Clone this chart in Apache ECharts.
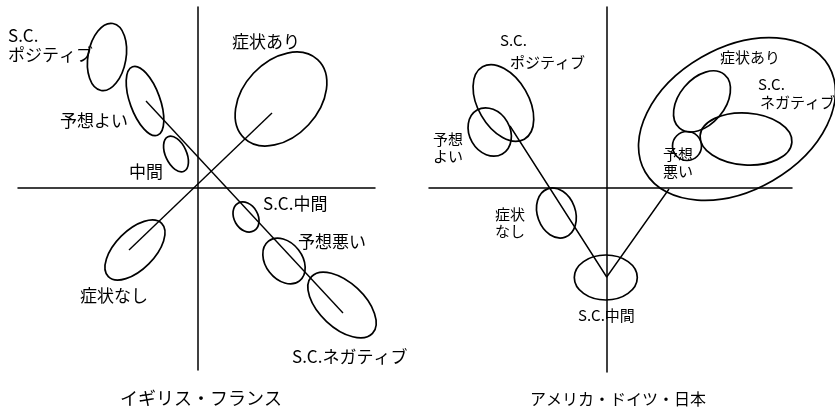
<!DOCTYPE html>
<html>
<head>
<meta charset="utf-8">
<script src="https://cdn.jsdelivr.net/npm/echarts@6/dist/echarts.min.js"></script>
<style>
  html, body { margin: 0; padding: 0; background: #fff; }
  #main { width: 835px; height: 414px; }
</style>
</head>
<body>
<div id="main"></div>
<script>
// 各パネルの楕円: [中心x, 中心y, 長半径, 短半径, 傾き(度)]
var ukEllipses = [
  [-91, 131, 34, 19, 80],    // S.C.ポジティブ
  [-53, 87, 36.5, 15, -70],  // 予想よい
  [-22, 34, 19, 10.5, -65],  // 中間
  [83, 89, 53.7, 37.7, 47],  // 症状あり
  [-63, -62, 37.7, 19.5, 45], // 症状なし
  [48, -29, 15.9, 11.9, -60], // S.C.中間
  [86, -73, 25.2, 18.3, -52], // 予想悪い
  [144, -117, 41.7, 22.6, -43] // S.C.ネガティブ
];
var usEllipses = [
  [-103.6, 85, 41.8, 25.4, -60], // S.C.ポジティブ
  [-117.3, 56, 25.3, 20.3, -60], // 予想よい
  [-50.6, -25, 25.7, 19, -70],   // 症状なし
  [-1.2, -89.5, 31.5, 22.5, 0],  // S.C.中間
  [130, 69, 106, 71.2, 30],      // 外側の大きな楕円
  [95, 86.6, 35, 22.8, 50],      // 症状あり
  [139, 49, 46, 26, -4],         // S.C.ネガティブ
  [80, 42, 14.5, 14.5, 0]        // 予想悪い
];

// 線
var ukLineA = [[-52, 87], [145, -125]];
var ukLineB = [[-69, -62], [74, 75]];
var usLine = [[-97, 62], [-0.3, -89], [62, -1]];

// ラベル: [左上x, 左上y, 文字]
var ukLabels = [
  [-190, 162, 'S.C.\nポジティブ'],
  [34, 156, '症状あり'],
  [-138, 77, '予想よい'],
  [-69, 26, '中間'],
  [65, -6, 'S.C.中間'],
  [100, -44, '予想悪い'],
  [-118, -98, '症状なし'],
  [94, -159, 'S.C.ネガティブ']
];
var usLabels = [
  [-107, 156, 'S.C.'],
  [-97, 134, 'ポジティブ'],
  [-174, 57, '予想\nよい'],
  [-112, -18, '症状\nなし'],
  [-29, -119, 'S.C.中間'],
  [113, 139, '症状あり'],
  [151, 112, 'S.C.'],
  [153, 94, 'ネガティブ'],
  [56, 42, '予想\n悪い']
];

var titles = ['イギリス・フランス', 'アメリカ・ドイツ・日本'];

var FONT = '"Noto Sans CJK JP", sans-serif';

function ellipseItem(params, api) {
  var c = api.coord([api.value(0), api.value(1)]);
  var s = api.size([api.value(2), api.value(3)]);
  return {
    type: 'ellipse',
    x: c[0],
    y: c[1],
    rotation: api.value(4) * Math.PI / 180,
    shape: { cx: 0, cy: 0, rx: s[0], ry: s[1] },
    style: { fill: 'none', stroke: '#000', lineWidth: 1.7 }
  };
}

function labelItem(labels, size) {
  return function (params, api) {
    var row = labels[params.dataIndex];
    var c = api.coord([row[0], row[1]]);
    return {
      type: 'text',
      x: c[0],
      y: c[1],
      style: {
        text: row[2],
        fill: '#000',
        font: size + 'px ' + FONT,
        lineHeight: size + 2,
        align: 'left',
        verticalAlign: 'top'
      }
    };
  };
}

function axisPair(idx, xmin, xmax, ymin, ymax) {
  var hide = {
    axisLabel: { show: false },
    axisTick: { show: false },
    splitLine: { show: false },
    axisLine: { show: true, onZero: true, lineStyle: { color: '#000', width: 1.5 } }
  };
  return {
    x: Object.assign({ type: 'value', gridIndex: idx, min: xmin, max: xmax }, hide),
    y: Object.assign({ type: 'value', gridIndex: idx, min: ymin, max: ymax }, hide)
  };
}

var a0 = axisPair(0, -180, 177, -182, 181);
var a1 = axisPair(1, -178, 185, -184, 181);

var lineStyle = { color: '#000', width: 1.4 };

function labelData(labels) {
  return labels.map(function (r) { return [r[0], r[1]]; });
}

var chart = echarts.init(document.getElementById('main'));
chart.setOption({
  backgroundColor: '#fff',
  animation: false,
  title: [
    { text: titles[0], left: 196, top: 384, textAlign: 'center',
      textStyle: { fontFamily: FONT, fontSize: 18, fontWeight: 'normal', color: '#000' } },
    { text: titles[1], left: 613, top: 386, textAlign: 'center',
      textStyle: { fontFamily: FONT, fontSize: 16, fontWeight: 'normal', color: '#000' } }
  ],
  grid: [
    { left: 18, top: 7, width: 357, height: 363 },
    { left: 429, top: 7, width: 363, height: 365 }
  ],
  xAxis: [a0.x, a1.x],
  yAxis: [a0.y, a1.y],
  series: [
    { type: 'custom', xAxisIndex: 0, yAxisIndex: 0, clip: false, renderItem: ellipseItem, data: ukEllipses },
    { type: 'custom', xAxisIndex: 1, yAxisIndex: 1, clip: false, renderItem: ellipseItem, data: usEllipses },
    { type: 'line', xAxisIndex: 0, yAxisIndex: 0, data: ukLineA, symbol: 'none', lineStyle: lineStyle },
    { type: 'line', xAxisIndex: 0, yAxisIndex: 0, data: ukLineB, symbol: 'none', lineStyle: lineStyle },
    { type: 'line', xAxisIndex: 1, yAxisIndex: 1, data: usLine, symbol: 'none', lineStyle: lineStyle },
    { type: 'custom', xAxisIndex: 0, yAxisIndex: 0, clip: false, renderItem: labelItem(ukLabels, 17), data: labelData(ukLabels) },
    { type: 'custom', xAxisIndex: 1, yAxisIndex: 1, clip: false, renderItem: labelItem(usLabels, 15), data: labelData(usLabels) }
  ]
});
</script>
</body>
</html>
